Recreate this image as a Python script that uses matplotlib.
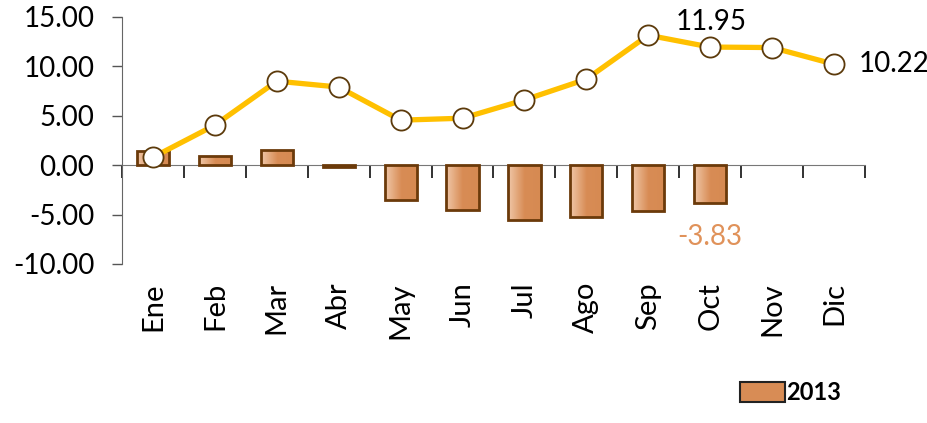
import numpy as np
import matplotlib.pyplot as plt
from matplotlib.colors import LinearSegmentedColormap
from matplotlib.patches import Patch

plt.rcParams['font.family'] = ['Lato', 'DejaVu Sans']

months = ['Ene', 'Feb', 'Mar', 'Abr', 'May', 'Jun', 'Jul', 'Ago', 'Sep', 'Oct', 'Nov', 'Dic']
bars_2013 = [1.4, 0.9, 1.5, -0.2, -3.5, -4.5, -5.6, -5.2, -4.6, -3.83, np.nan, np.nan]
line_vals = [0.8, 4.05, 8.5, 7.9, 4.55, 4.75, 6.6, 8.7, 13.15, 11.95, 11.9, 10.22]

x = np.arange(len(months))

fig = plt.figure(figsize=(9.28, 4.23), dpi=100)
ax = fig.add_axes([0.1315, 0.376, 0.8005, 0.584])

# bars with a left-to-right gradient fill
grad = LinearSegmentedColormap.from_list('g', ['#F0C7A8', '#D88C55', '#D68A52'])
bars = ax.bar(x, bars_2013, width=0.52, facecolor='none', edgecolor='#6B3A0A',
              linewidth=2, zorder=3)
for b in bars:
    h = b.get_height()
    if np.isnan(h):
        continue
    x0, w = b.get_x(), b.get_width()
    im = ax.imshow(np.linspace(0, 1, 64).reshape(1, -1), cmap=grad, aspect='auto',
                   extent=[x0, x0 + w, min(0, h), max(0, h)], zorder=2)
    im.set_clip_path(b)

ax.plot(x, line_vals, color='#FFC000', linewidth=3.8, marker='o', markersize=14.5,
        markerfacecolor='white', markeredgecolor='#5C3A0B', markeredgewidth=1.3, zorder=5)

ax.set_xlim(-0.5, len(months) - 0.5)
ax.set_ylim(-10, 15)
ax.set_yticks(np.arange(-10, 16, 5))
ax.set_yticklabels([f'{v:.2f}' for v in np.arange(-10, 16, 5)], fontsize=20)
ax.tick_params(axis='y', length=7, width=1, color='#555555', pad=13)

ax.set_xticks(x)
ax.set_xticklabels(months, rotation=90, fontsize=21)
ax.tick_params(axis='x', length=0, pad=13)

for s in ['top', 'right', 'bottom']:
    ax.spines[s].set_visible(False)
ax.spines['left'].set_color('#666666')

# category axis crossing at zero
sec = ax.secondary_xaxis(0.4)
sec.set_xticks(np.arange(-0.5, len(months) + 0.5, 1))
sec.set_xticklabels([])
sec.tick_params(length=9, width=1.3, color='#222222', direction='out')
sec.spines['bottom'].set_color('#777777')

ax.annotate(f'{line_vals[9]:.2f}', (x[9], line_vals[9]), xytext=(1, 9),
            textcoords='offset points', ha='center', va='bottom', fontsize=20, zorder=6)
ax.annotate(f'{line_vals[11]:.2f}', (x[11], line_vals[11]), xytext=(18, 0),
            textcoords='offset points', ha='left', va='center', fontsize=20)
ax.annotate(f'{bars_2013[9]:.2f}', (x[9], bars_2013[9]), xytext=(0, -15),
            textcoords='offset points', ha='center', va='top', fontsize=20, color='#E0925A')

fig.legend(handles=[Patch(facecolor='#D88C55', edgecolor='#222222', linewidth=1.5, label='2013')],
           loc='lower left', bbox_to_anchor=(0.775, -0.005), frameon=False,
           prop={'family': ['Liberation Sans Narrow', 'Lato'], 'weight': 'bold', 'size': 17},
           handlelength=1.9, handleheight=0.9, handletextpad=0.05)

fig.savefig('out.png', dpi=100)
